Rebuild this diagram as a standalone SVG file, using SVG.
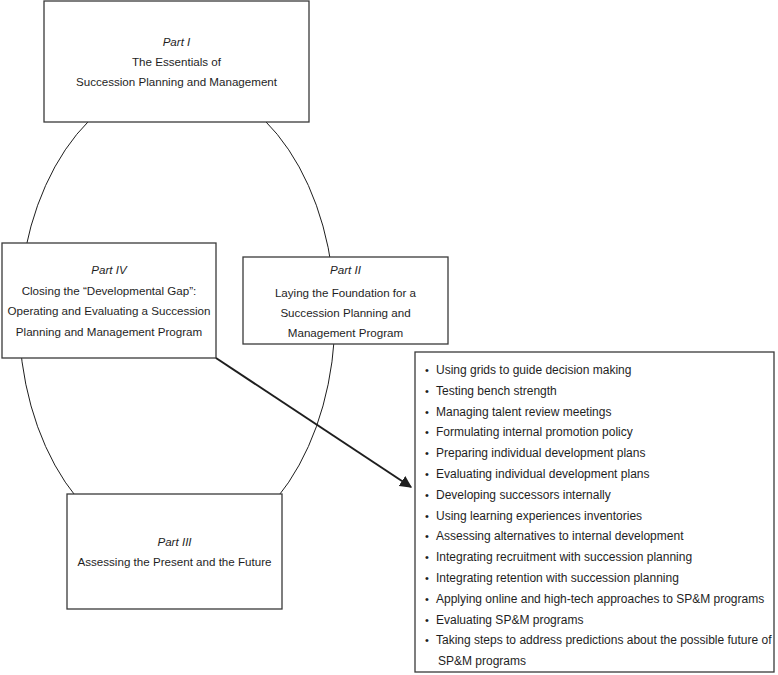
<svg xmlns="http://www.w3.org/2000/svg" width="778" height="675" viewBox="0 0 778 675">
<style>
.box{fill:#fff;stroke:#3a3a3a;stroke-width:1.3}
.t{font-family:"Liberation Sans",Arial,sans-serif;font-size:12px;fill:#1e1e1e}
.h{font-size:11.6px}
.c{text-anchor:middle}
.i{font-style:italic}
.b{font-size:11px}
.ring{fill:none;stroke:#1e1e1e;stroke-width:1}
.arrow{stroke:#1e1e1e;stroke-width:2;fill:none}
</style>
<defs>
<marker id="ah" viewBox="0 0 10 10" refX="9" refY="5" markerWidth="6" markerHeight="6" orient="auto" markerUnits="strokeWidth">
<path d="M0,0 L10,5 L0,10 z" fill="#1e1e1e"/>
</marker>
</defs>
<rect width="778" height="675" fill="#fff"/>
<g id="cycle">
<ellipse class="ring" cx="177" cy="316" rx="158" ry="235"/>
</g>
<g id="part1">
<rect class="box" x="44" y="1" width="265" height="121"/>
<text class="t h c i" x="176.5" y="46">Part I</text>
<text class="t h c" x="176.5" y="66">The Essentials of</text>
<text class="t h c" x="176.5" y="86">Succession Planning and Management</text>
</g>
<g id="part2">
<rect class="box" x="243" y="257" width="205" height="87"/>
<text class="t h c i" x="345.5" y="274">Part II</text>
<text class="t h c" x="345.5" y="297">Laying the Foundation for a</text>
<text class="t h c" x="345.5" y="317">Succession Planning and</text>
<text class="t h c" x="345.5" y="337">Management Program</text>
</g>
<g id="part3">
<rect class="box" x="67" y="494" width="215" height="115"/>
<text class="t h c i" x="174.5" y="546">Part III</text>
<text class="t h c" x="174.5" y="566">Assessing the Present and the Future</text>
</g>
<g id="part4">
<rect class="box" x="2" y="243" width="214" height="115"/>
<text class="t h c i" x="109" y="274">Part IV</text>
<text class="t h c" x="109" y="295">Closing the “Developmental Gap”:</text>
<text class="t h c" x="109" y="315">Operating and Evaluating a Succession</text>
<text class="t h c" x="109" y="336">Planning and Management Program</text>
</g>
<g id="connectors">
<line class="arrow" x1="216" y1="358" x2="411" y2="487" marker-end="url(#ah)"/>
</g>
<g id="activities">
<rect class="box" x="415" y="352" width="359" height="320"/>
<g class="t b">
<text x="425" y="374">•</text>
<text x="425" y="395">•</text>
<text x="425" y="416">•</text>
<text x="425" y="436">•</text>
<text x="425" y="457">•</text>
<text x="425" y="478">•</text>
<text x="425" y="499">•</text>
<text x="425" y="520">•</text>
<text x="425" y="540">•</text>
<text x="425" y="561">•</text>
<text x="425" y="582">•</text>
<text x="425" y="603">•</text>
<text x="425" y="624">•</text>
<text x="425" y="644">•</text>
</g>
<text class="t" x="436" y="374">Using grids to guide decision making</text>
<text class="t" x="436" y="395">Testing bench strength</text>
<text class="t" x="436" y="416">Managing talent review meetings</text>
<text class="t" x="436" y="436">Formulating internal promotion policy</text>
<text class="t" x="436" y="457">Preparing individual development plans</text>
<text class="t" x="436" y="478">Evaluating individual development plans</text>
<text class="t" x="436" y="499">Developing successors internally</text>
<text class="t" x="436" y="520">Using learning experiences inventories</text>
<text class="t" x="436" y="540">Assessing alternatives to internal development</text>
<text class="t" x="436" y="561">Integrating recruitment with succession planning</text>
<text class="t" x="436" y="582">Integrating retention with succession planning</text>
<text class="t" x="436" y="603">Applying online and high-tech approaches to SP&amp;M programs</text>
<text class="t" x="436" y="624">Evaluating SP&amp;M programs</text>
<text class="t" x="436" y="644">Taking steps to address predictions about the possible future of</text>
<text class="t" x="438" y="665">SP&amp;M programs</text>
</g>
</svg>
